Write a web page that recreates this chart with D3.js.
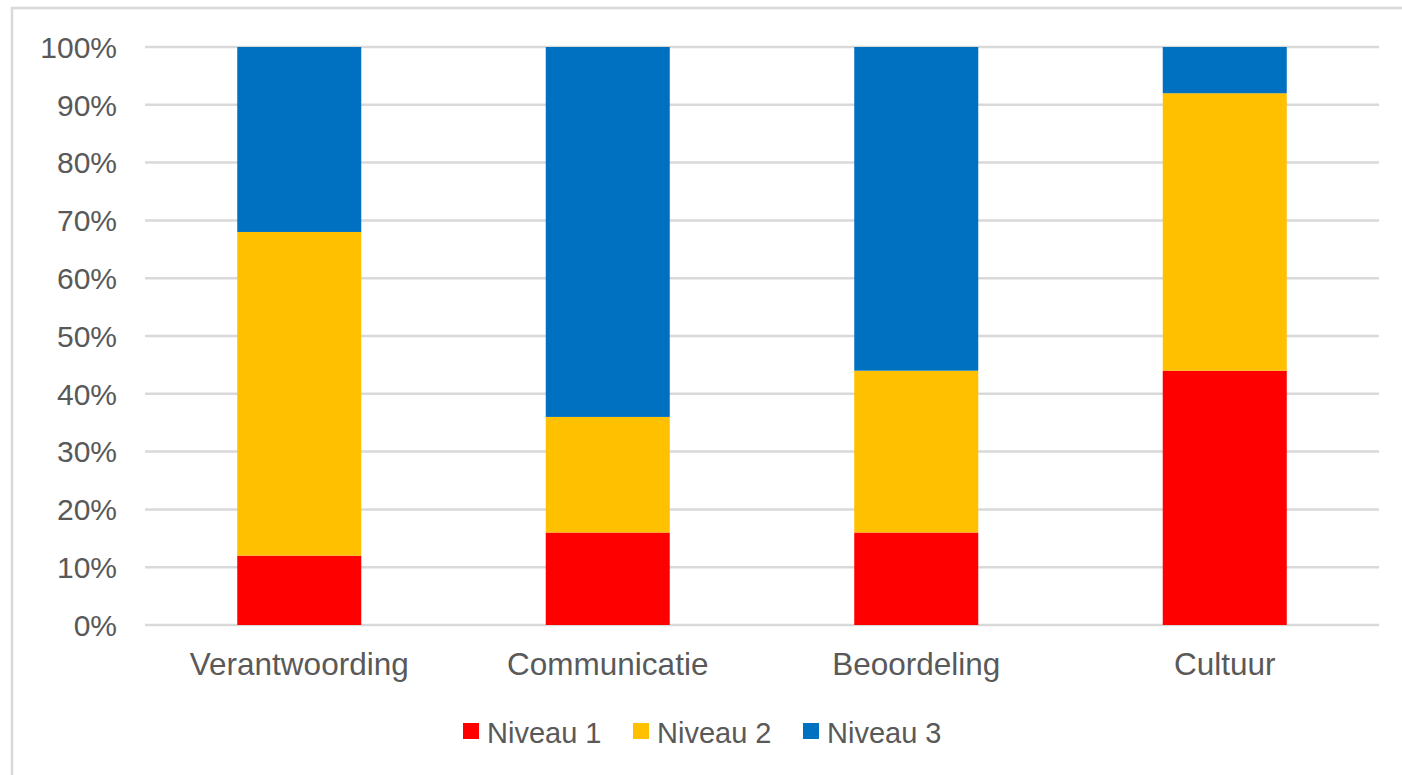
<!DOCTYPE html>
<html>
<head>
    <script src="https://d3js.org/d3.v7.min.js"></script>
    <title>Niveaus per thema</title>
</head>
<style>
    body {
        margin: 0;
        overflow: hidden;
        background-color: white;
        font-family: 'Liberation Sans', Arial, sans-serif;
    }
</style>
<body>
<div id="chart"></div>
</body>
</html>

<script>
  // categories + series (percentages per level)
  var categories = ["Verantwoording", "Communicatie", "Beoordeling", "Cultuur"];
  var seriesNames = ["Niveau 1", "Niveau 2", "Niveau 3"];
  var niveau1 = [12, 16, 16, 44];
  var niveau2 = [56, 20, 28, 48];
  var niveau3 = [32, 64, 56, 8];
  var colors = ["#ff0000", "#ffc000", "#0070c0"];
  var yTicks = [0, 10, 20, 30, 40, 50, 60, 70, 80, 90, 100];

  var width = 1402, height = 775;

  var svg = d3.select("#chart").append("svg")
      .attr("width", width)
      .attr("height", height)
      .style("display", "block");

  // chart border (runs off right/bottom edge like the screenshot)
  svg.append("rect")
      .attr("x", 12)
      .attr("y", 8)
      .attr("width", 1420)
      .attr("height", 800)
      .attr("fill", "none")
      .attr("stroke", "#d9d9d9")
      .attr("stroke-width", 2.5);

  var x = d3.scaleBand()
      .domain(categories)
      .range([145, 1379])
      .paddingInner(0.598)
      .paddingOuter(0.299);

  var y = d3.scaleLinear()
      .domain([0, 100])
      .range([625, 47]);

  // gridlines
  svg.append("g")
      .selectAll("line")
      .data(yTicks)
      .enter()
      .append("line")
      .attr("x1", 145)
      .attr("x2", 1379)
      .attr("y1", function(d) { return y(d); })
      .attr("y2", function(d) { return y(d); })
      .attr("stroke", "#d9d9d9")
      .attr("stroke-width", 2.5);

  // y tick labels
  svg.append("g")
      .selectAll("text")
      .data(yTicks)
      .enter()
      .append("text")
      .attr("x", 117)
      .attr("y", function(d) { return y(d); })
      .attr("dy", "0.36em")
      .attr("text-anchor", "end")
      .style("font-size", "30px")
      .style("fill", "#595959")
      .text(function(d) { return d + "%"; });

  // stacked bars
  var rows = categories.map(function(c, i) {
      return {cat: c, "Niveau 1": niveau1[i], "Niveau 2": niveau2[i], "Niveau 3": niveau3[i]};
  });
  var stacked = d3.stack().keys(seriesNames)(rows);

  svg.append("g")
      .selectAll("g")
      .data(stacked)
      .enter()
      .append("g")
      .attr("fill", function(d, i) { return colors[i]; })
      .selectAll("rect")
      .data(function(d) { return d; })
      .enter()
      .append("rect")
      .attr("x", function(d) { return x(d.data.cat); })
      .attr("width", x.bandwidth())
      .attr("y", function(d) { return y(d[1]); })
      .attr("height", function(d) { return y(d[0]) - y(d[1]); });

  // category labels
  svg.append("g")
      .selectAll("text")
      .data(categories)
      .enter()
      .append("text")
      .attr("x", function(d) { return x(d) + x.bandwidth() / 2; })
      .attr("y", 675)
      .attr("text-anchor", "middle")
      .style("font-size", "31.5px")
      .style("fill", "#595959")
      .text(function(d) { return d; });

  // legend
  var legend = svg.append("g")
      .selectAll("g")
      .data(seriesNames)
      .enter()
      .append("g")
      .attr("transform", function(d, i) { return "translate(" + (463 + i * 170) + ",723)"; });

  legend.append("rect")
      .attr("width", 16)
      .attr("height", 16)
      .attr("fill", function(d, i) { return colors[i]; });

  legend.append("text")
      .attr("x", 24)
      .attr("y", 19.5)
      .style("font-size", "29px")
      .style("fill", "#595959")
      .text(function(d) { return d; });
</script>
